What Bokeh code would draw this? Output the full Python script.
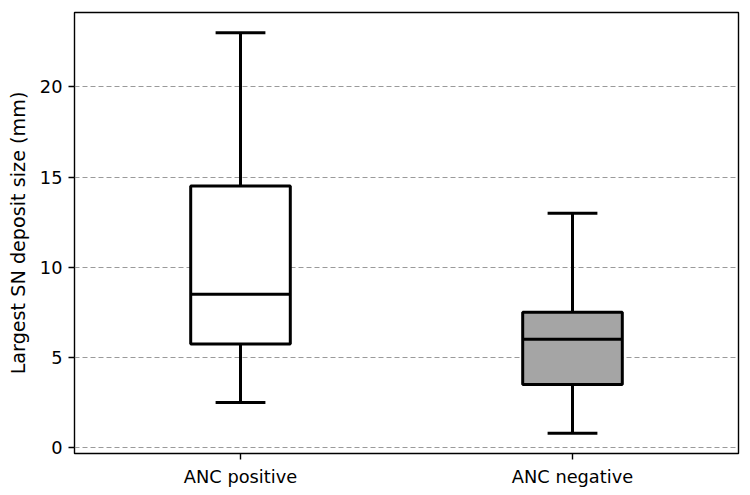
from bokeh.plotting import figure
from bokeh.models import Range1d, FixedTicker, ColumnDataSource
from bokeh.embed import file_html
from bokeh.resources import INLINE

# Summary statistics for each group (mm)
categories = ["ANC positive", "ANC negative"]
positions = [1, 2]
whisker_low = [2.5, 0.8]
q1 = [5.75, 3.5]
median = [8.5, 6.0]
q3 = [14.5, 7.5]
whisker_high = [23.0, 13.0]
box_fill = ["white", "#a5a5a5"]

y_ticks = [0, 5, 10, 15, 20]

BOX_W = 0.3
CAP_W = 0.15
FONT = "DejaVu Sans"
TICK_FONT_SIZE = "17.8px"
LABEL_FONT_SIZE = "19.2px"

src = ColumnDataSource(dict(
    x=positions,
    lo=whisker_low,
    q1=q1,
    med=median,
    q3=q3,
    hi=whisker_high,
    fill=box_fill,
    box_l=[p - BOX_W / 2 for p in positions],
    box_r=[p + BOX_W / 2 for p in positions],
    cap_l=[p - CAP_W / 2 for p in positions],
    cap_r=[p + CAP_W / 2 for p in positions],
))

p = figure(
    width=750, height=495,
    x_range=Range1d(0.5, 2.5),
    y_range=Range1d(-0.33, 24.13),
    output_backend="svg",
    toolbar_location=None,
    min_border_left=74, min_border_right=12,
    min_border_top=12, min_border_bottom=42,
)

p.background_fill_color = "white"
p.border_fill_color = "white"
p.outline_line_color = "black"
p.outline_line_width = 1.4

# Grid: dashed horizontal lines only
p.xgrid.grid_line_color = None
p.ygrid.grid_line_color = "#9a9a9a"
p.ygrid.grid_line_dash = "5 3"
p.ygrid.grid_line_width = 1

# Axes
p.xaxis.ticker = FixedTicker(ticks=positions)
p.xaxis.major_label_overrides = {pos: name for pos, name in zip(positions, categories)}
p.yaxis.ticker = FixedTicker(ticks=y_ticks)
p.yaxis.axis_label = "Largest SN deposit size (mm)"
for ax in (p.xaxis[0], p.yaxis[0]):
    ax.axis_line_color = None
    ax.major_tick_out = 6
    ax.major_tick_in = 0
    ax.major_tick_line_color = "black"
    ax.major_tick_line_width = 1.4
    ax.minor_tick_line_color = None
    ax.major_label_text_font = FONT
    ax.major_label_text_font_size = TICK_FONT_SIZE
    ax.major_label_text_color = "black"
    ax.major_label_standoff = 6
    ax.axis_label_text_font = FONT
    ax.axis_label_text_font_size = LABEL_FONT_SIZE
    ax.axis_label_text_font_style = "normal"
    ax.axis_label_text_color = "black"
    ax.axis_label_standoff = 7

LW = 3

# Whiskers
p.segment(x0="x", y0="q3", x1="x", y1="hi", source=src, line_color="black", line_width=LW)
p.segment(x0="x", y0="lo", x1="x", y1="q1", source=src, line_color="black", line_width=LW)
# Caps
p.segment(x0="cap_l", y0="hi", x1="cap_r", y1="hi", source=src, line_color="black", line_width=LW)
p.segment(x0="cap_l", y0="lo", x1="cap_r", y1="lo", source=src, line_color="black", line_width=LW)
# Boxes
p.quad(left="box_l", right="box_r", bottom="q1", top="q3", source=src,
       fill_color="fill", line_color="black", line_width=LW)
# Medians
p.segment(x0="box_l", y0="med", x1="box_r", y1="med", source=src, line_color="black", line_width=LW)

open("out.html", "w").write(file_html(p, INLINE))
